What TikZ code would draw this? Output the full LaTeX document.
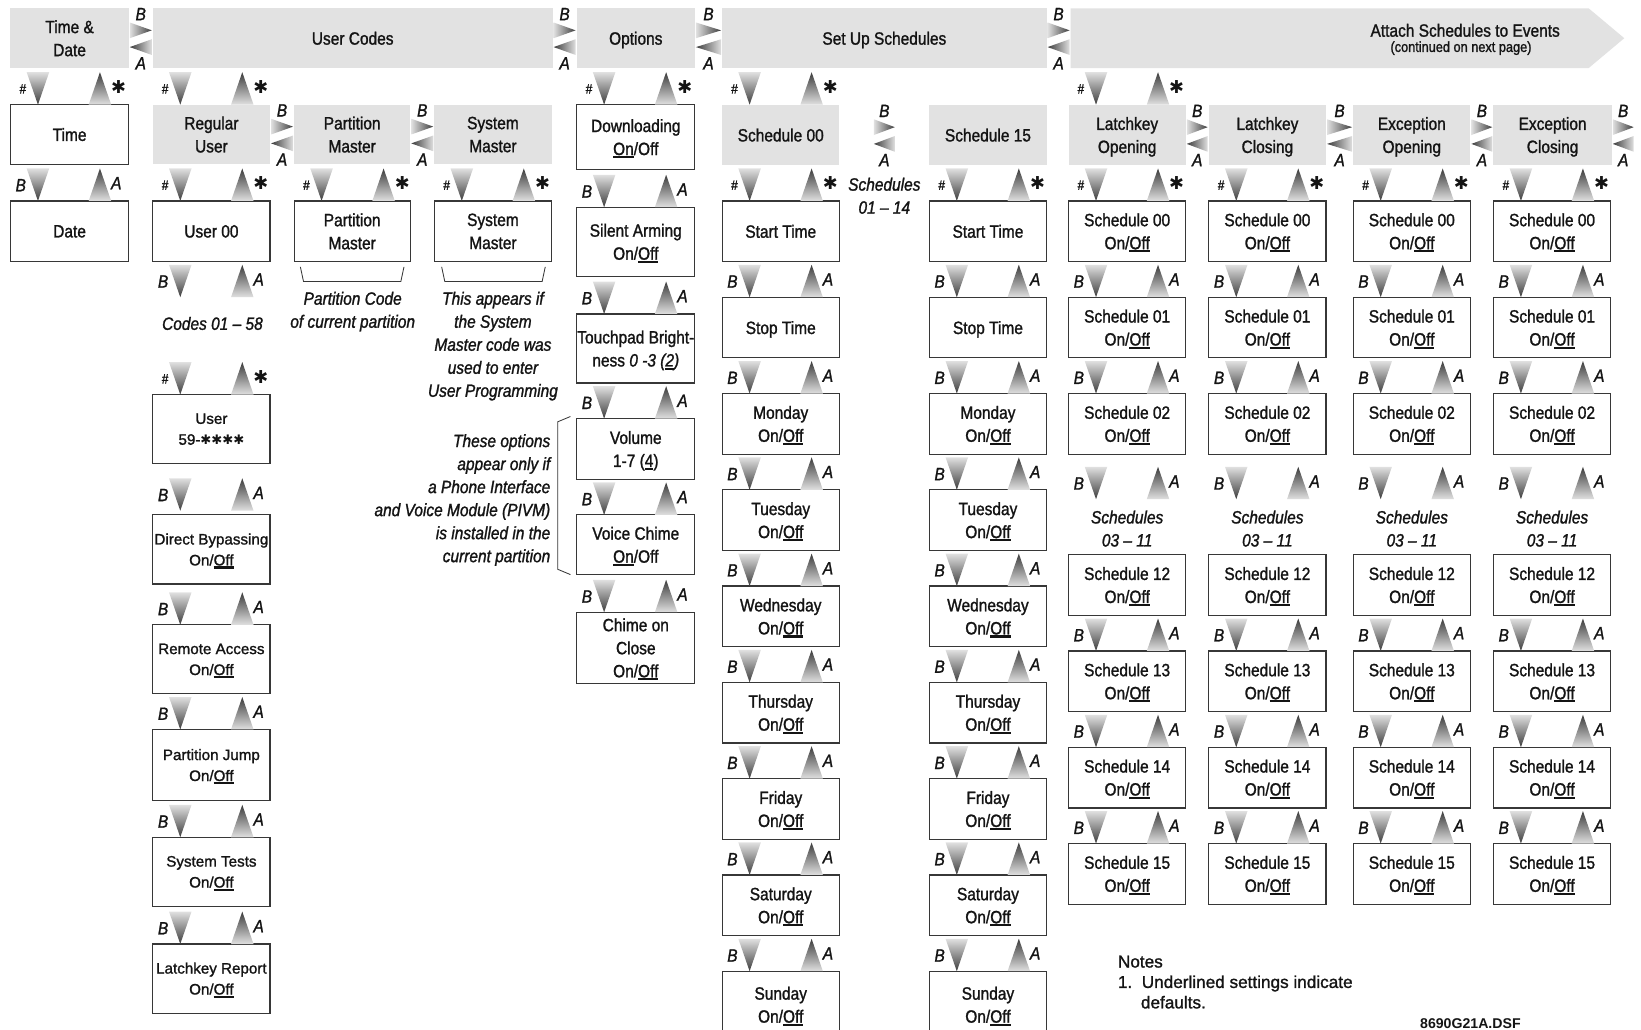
\documentclass[tikz,border=0pt]{standalone}
\usepackage{fontspec}
\setmainfont[FakeStretch=0.87,FakeBold=1.3]{Liberation Sans}
\newfontfamily\widefont[FakeBold=1.3]{Liberation Sans}
\newfontfamily\dsffont{Liberation Sans}
\newfontfamily\djv{DejaVu Sans}
\usetikzlibrary{calc}
\definecolor{hg}{RGB}{226,226,226}
\definecolor{bc}{RGB}{55,55,55}
\definecolor{tl}{RGB}{224,224,224}
\definecolor{td}{RGB}{60,60,60}
\definecolor{tx}{RGB}{20,20,20}
\newcommand\ulx[1]{\setbox0=\hbox{#1}\rlap{\smash{\rule[-3pt]{\wd0}{2pt}}}\box0}
\newcommand\stx{{\upshape\djv\fontsize{17}{17}\selectfont ✱}}
\newcommand\hs{{\fontsize{13}{13}\selectfont\itshape\#}}
\newcommand\bx[7][wbox]{\node[#1, minimum width={(#5-#3)*1pt}, minimum height={(#6-#4)*1pt}, anchor=north west] (#2) at (#3,#4) {#7};}
\newcommand\vpair[3]{%
 \shade[top color=tl,bottom color=td] let \p1=#1 in (\x1+15.5pt,\y1+31pt) -- (\x1+37pt,\y1+31pt) -- (\x1+26.25pt,\y1) -- cycle;
 \shade[top color=td,bottom color=tl] let \p1=#1 in (\x1+85.5pt,\y1+31pt) -- (\x1+74.75pt,\y1) -- (\x1+96.25pt,\y1) -- cycle;
 \path let \p1=#1 in node[lbl,anchor=east] at (\x1+16pt,\y1+15pt) {#2} node[lbl,anchor=west] at (\x1+95pt,\y1+17pt) {#3};}
\newcommand\hpair[2]{%
 \shade[left color=tl,right color=td] let \p1=#1, \p2=#2 in (\x1+1pt,\y1+15pt) -- (\x2-1pt,\y1+7.5pt) -- (\x1+1pt,\y1) -- cycle;
 \shade[left color=td,right color=tl] let \p1=#1, \p2=#2 in (\x1+1pt,\y1-8.5pt) -- (\x2-1pt,\y1-1pt) -- (\x2-1pt,\y1-16pt) -- cycle;
 \path let \p1=#1, \p2=#2 in node[lbl] at ({0.5*(\x1+\x2)},\y1+23pt) {B} node[lbl] at ({0.5*(\x1+\x2)},\y1-24pt) {A};}
\begin{document}
\begin{tikzpicture}[x=1pt,y=-1pt, font=\fontsize{17}{22}\selectfont, text=tx,
 wbox/.style={draw=bc, line width=1.1pt, fill=white, align=center, inner sep=0pt, outer sep=0pt, text depth=0pt},
 gbox/.style={fill=hg, align=center, inner sep=0pt, outer sep=0pt, text depth=0pt},
 wfont/.style={font=\widefont\fontsize{14.5}{20}\selectfont},
 lbl/.style={inner sep=1pt, font=\fontsize{17}{17}\selectfont\itshape},
 note/.style={font=\fontsize{17}{22}\selectfont\itshape, align=center, inner sep=0pt, text depth=0pt},
 brk/.style={draw=bc, line width=0.8pt}]
\fill[white] (0,0) rectangle (1568,984);
\useasboundingbox (0,0) rectangle (1568,984);
% headers
\bx[gbox]{td}{10}{8}{123}{65}{Time \&\\Date}
\bx[gbox]{uc}{146}{8}{528}{65}{User Codes}
\bx[gbox]{opt}{551}{8}{664}{65}{Options}
\bx[gbox]{sus}{690}{8}{1000}{65}{Set Up Schedules}
\fill[hg] (1023,8) -- (1518,8) -- (1552,36.5) -- (1518,65) -- (1023,65) -- cycle;
\bx[gbox,fill=none]{att}{1023}{8}{1518}{65}{}
\node (atttxt) at (1400,29) {Attach Schedules to Events};
\node[font=\fontsize{14}{14}\selectfont] (attsub) at (1396,46) {(continued on next page)};
\hpair{(td.east)}{(uc.west)}
\hpair{(uc.east)}{(opt.west)}
\hpair{(opt.east)}{(sus.west)}
\hpair{(sus.east)}{(att.west)}
% time column
\bx{time}{10}{100}{123}{157}{Time}
\bx{date}{10}{192}{123}{250}{Date}
\vpair{(time.north west)}{\hs}{\stx}
\vpair{(date.north west)}{B}{A}
% user codes
\bx[gbox]{ru}{146}{100}{258}{157}{Regular\\User}
\bx[gbox]{pm}{281}{100}{392}{157}{Partition\\Master}
\bx[gbox]{sm}{415}{100}{527}{157}{System\\Master}
\vpair{(ru.north west)}{\hs}{\stx}
\hpair{(ru.east)}{(pm.west)}
\hpair{(pm.east)}{(sm.west)}
\bx{u00}{146}{192}{258}{250}{User 00}
\bx{pmw}{281}{192}{392}{250}{Partition\\Master}
\bx{smw}{415}{192}{527}{250}{System\\Master}
\vpair{(u00.north west)}{\hs}{\stx}
\vpair{(pmw.north west)}{\hs}{\stx}
\vpair{(smw.north west)}{\hs}{\stx}
\coordinate (u00b) at ($(u00.south west)+(0,34)$);
\vpair{(u00b)}{B}{A}
\node[note] (codes) at (203,309) {Codes 01 – 58};
\draw[brk] ($(pmw.south west)+(6,5)$) -- ($(pmw.south west)+(9,19)$) -- ($(pmw.south east)+(-9,19)$) -- ($(pmw.south east)+(-6,5)$);
\draw[brk] ($(smw.south west)+(7,5)$) -- ($(smw.south west)+(10,19)$) -- ($(smw.south east)+(-9,19)$) -- ($(smw.south east)+(-6,5)$);
\node[note] (pcnote) at (337,296) {Partition Code\\of current partition};
\node[note] (smnote) at (471,329) {This appears if\\the System\\Master code was\\used to enter\\User Programming};
\bx[wbox,wfont]{u59}{146}{377}{258}{443}{User\\59-{\djv\fontsize{12.5}{12.5}\selectfont ✱✱✱✱}}
\bx[wbox,wfont]{dbp}{146}{492}{258}{558}{Direct Bypassing\\On/\ulx{Off}}
\bx[wbox,wfont]{ra}{146}{597}{258}{663}{Remote Access\\On/\ulx{Off}}
\bx[wbox,wfont]{pj}{146}{697}{258}{765}{Partition Jump\\On/\ulx{Off}}
\bx[wbox,wfont]{st}{146}{800}{258}{866}{System Tests\\On/\ulx{Off}}
\bx[wbox,wfont]{lr}{146}{902}{258}{968}{Latchkey Report\\On/\ulx{Off}}
\vpair{(u59.north west)}{\hs}{\stx}
\coordinate (dbpt) at ($(dbp.north west)+(0,-4)$);
\vpair{(dbpt)}{B}{A}
\vpair{(ra.north west)}{B}{A}
\vpair{(pj.north west)}{B}{A}
\vpair{(st.north west)}{B}{A}
\vpair{(lr.north west)}{B}{A}
% options
\bx{dl}{551}{100}{664}{162}{Downloading\\\ulx{On}/Off}
\bx{sa}{551}{198}{664}{264}{Silent Arming\\On/\ulx{Off}}
\bx{tb}{551}{300}{664}{366}{Touchpad Bright-\\ness \textit{0 -3 (\ulx{2})}}
\bx{vol}{551}{400}{664}{458}{Volume\\1-7 (\ulx{4})}
\bx{vc}{551}{492}{664}{549}{Voice Chime\\\ulx{On}/Off}
\bx{coc}{551}{585}{664}{653}{Chime on\\Close\\On/\ulx{Off}}
\vpair{(dl.north west)}{\hs}{\stx}
\vpair{(sa.north west)}{B}{A}
\vpair{(tb.north west)}{B}{A}
\vpair{(vol.north west)}{B}{A}
\vpair{(vc.north west)}{B}{A}
\vpair{(coc.north west)}{B}{A}
\draw[brk] ($(vol.north west)+(-6,-2)$) -- ($(vol.north west)+(-18,3)$) -- ($(vc.south west)+(-18,-5)$) -- ($(vc.south west)+(-6,0)$);
\node[note, align=right, anchor=east] (pivm) at (526,476) {These options\\appear only if\\a Phone Interface\\and Voice Module (PIVM)\\is installed in the\\current partition};
% set up schedules
\bx[gbox]{s00}{690}{100}{802}{158}{Schedule 00}
\bx[gbox]{s15}{888}{100}{1000}{158}{Schedule 15}
\vpair{(s00.north west)}{\hs}{\stx}
\coordinate (sma) at (834,129);
\coordinate (smb) at (856,129);
\hpair{(sma)}{(smb)}
\node[note] (s0114) at (845,187) {Schedules\\01 – 14};
\foreach \cn/\cx in {a/690,b/888}{
 \bx{\cn0}{\cx}{192}{\cx+112}{250}{Start Time}
 \bx{\cn1}{\cx}{284}{\cx+112}{342}{Stop Time}
 \foreach \dd [count=\ii from 2] in {Monday,Tuesday,Wednesday,Thursday,Friday,Saturday}{
   \pgfmathsetmacro\yy{192+92*\ii}
   \bx{\cn\ii}{\cx}{\yy}{\cx+112}{\yy+58}{\dd\\On/\ulx{Off}}
 }
 \bx{\cn8}{\cx}{928}{\cx+112}{992}{Sunday\\On/\ulx{Off}}
 \vpair{(\cn0.north west)}{\hs}{\stx}
 \foreach \ii in {1,...,8}{\vpair{(\cn\ii.north west)}{B}{A}}
}
% attach schedules
\bx[gbox]{lo}{1021}{100}{1133}{158}{Latchkey\\Opening}
\bx[gbox]{lc}{1155}{100}{1267}{158}{Latchkey\\Closing}
\bx[gbox]{eo}{1293}{100}{1405}{158}{Exception\\Opening}
\bx[gbox]{ec}{1427}{100}{1540}{158}{Exception\\Closing}
\coordinate (ecr) at (1562,129);
\vpair{(lo.north west)}{\hs}{\stx}
\hpair{(lo.east)}{(lc.west)}
\hpair{(lc.east)}{(eo.west)}
\hpair{(eo.east)}{(ec.west)}
\hpair{(ec.east)}{(ecr)}
\foreach \cn/\cx in {p/1021,q/1155,r/1293,s/1427}{
 \bx{\cn0}{\cx}{192}{\cx+112}{250}{Schedule 00\\On/\ulx{Off}}
 \bx{\cn1}{\cx}{284}{\cx+112}{342}{Schedule 01\\On/\ulx{Off}}
 \bx{\cn2}{\cx}{376}{\cx+112}{434}{Schedule 02\\On/\ulx{Off}}
 \bx{\cn12}{\cx}{530}{\cx+112}{588}{Schedule 12\\On/\ulx{Off}}
 \bx{\cn13}{\cx}{622}{\cx+112}{680}{Schedule 13\\On/\ulx{Off}}
 \bx{\cn14}{\cx}{714}{\cx+112}{772}{Schedule 14\\On/\ulx{Off}}
 \bx{\cn15}{\cx}{806}{\cx+112}{864}{Schedule 15\\On/\ulx{Off}}
 \vpair{(\cn0.north west)}{\hs}{\stx}
 \vpair{(\cn1.north west)}{B}{A}
 \vpair{(\cn2.north west)}{B}{A}
 \coordinate (\cn gap) at ($(\cn2.south west)+(0,43)$);
 \vpair{(\cn gap)}{B}{A}
 \node[note] (\cn txt) at ($(\cn12.north)+(0,-25)$) {Schedules\\03 – 11};
 \vpair{(\cn13.north west)}{B}{A}
 \vpair{(\cn14.north west)}{B}{A}
 \vpair{(\cn15.north west)}{B}{A}
}
% notes
\node[anchor=north west, align=left, font=\widefont\fontsize{16.4}{19.5}\selectfont, inner sep=0pt] (notes) at (1068,913) {Notes\\1.\ \ Underlined settings indicate\\\hspace*{22pt}defaults.};
\node[font=\dsffont\bfseries\fontsize{13.5}{14}\selectfont] (dsf) at (1405,978) {8690G21A.DSF};
\end{tikzpicture}
\end{document}
